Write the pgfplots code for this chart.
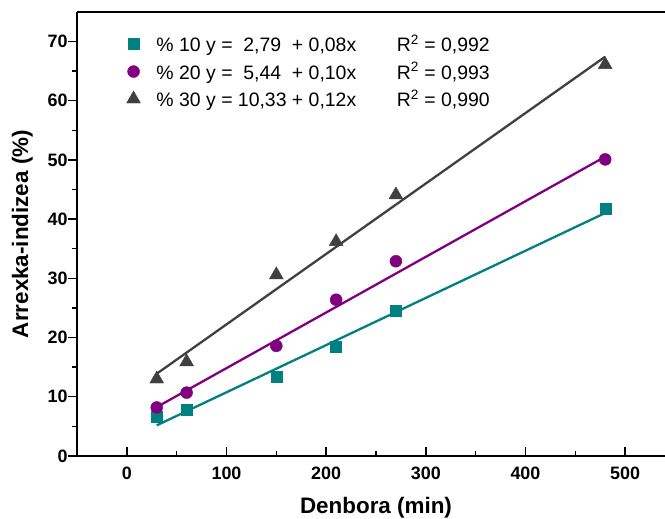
\documentclass[border=0pt]{standalone}
\usepackage{pgfplots}
\pgfplotsset{compat=1.18}
\usepackage{fontspec}
\setmainfont{Liberation Sans}
\definecolor{c10}{RGB}{0,128,128}
\definecolor{c20}{RGB}{128,0,128}
\definecolor{c30}{RGB}{64,64,64}
\begin{document}
\begin{tikzpicture}
\begin{axis}[
  scale only axis, width=588bp, height=444bp,
  xmin=-50, xmax=540, ymin=0, ymax=75,
  axis x line*=box, axis y line*=left,
  axis line style={-, line width=1.6bp},
  xtick={0,100,...,500}, ytick={0,10,...,70},
  minor x tick num=1, minor y tick num=1,
  xtick align=inside, ytick align=outside,
  xtick pos=bottom, ytick pos=left,
  major tick length=9bp, minor tick length=5bp,
  tick style={line width=1.4bp, black},
  /pgf/number format/assume math mode=true,
  tick label style={font=\bfseries\fontsize{18}{21}\selectfont},
  xticklabel style={yshift=-7bp},
  yticklabel style={xshift=3bp},
  xlabel={Denbora (min)}, ylabel={Arrexka-indizea (\%)},
  label style={font=\bfseries\fontsize{22.5}{26}\selectfont},
  xlabel style={at={(axis description cs:0.5085,-0.1295)}, anchor=base},
  ylabel style={at={(axis description cs:-0.0833,0.5)}, anchor=base, rotate=0},
  legend style={draw=none, fill=none, at={(0.079,0.958)}, anchor=north west,
    font=\fontsize{19.5}{22}\selectfont, row sep=5bp,
    nodes={inner xsep=8bp}},
  legend cell align=left,
]
% fitted lines
\addplot[c10, line width=2.3bp, forget plot] coordinates {(30,5.18) (480,41.05)};
\addplot[c20, line width=2.3bp, forget plot] coordinates {(30,8.26) (480,50.56)};
\addplot[c30, line width=2.3bp, forget plot] coordinates {(30,13.9) (480,67.45)};
% measurements
\addplot[only marks, mark=square*, mark size=5.5bp, c10] coordinates {
  (30,6.6) (60,7.9) (150,13.4) (210,18.5) (270,24.5) (480,41.8)};
\addlegendentry{\hspace{8bp}\% 10 y = \makebox[2.5em][c]{2,79} \makebox[5.4em][l]{+ 0,08x}R\textsuperscript{2} = 0,992}
\addplot[only marks, mark=*, mark size=6bp, c20] coordinates {
  (30,8.2) (60,10.7) (150,18.6) (210,26.4) (270,32.9) (480,50.1)};
\addlegendentry{\hspace{8bp}\% 20 y = \makebox[2.5em][c]{5,44} \makebox[5.4em][l]{+ 0,10x}R\textsuperscript{2} = 0,993}
\addplot[only marks, mark=triangle*, mark size=8bp, c30] coordinates {
  (30,13.0) (60,15.9) (150,30.6) (210,36.2) (270,44.1) (480,66.1)};
\addlegendentry{\hspace{8bp}\% 30 y = \makebox[2.5em][c]{10,33} \makebox[5.4em][l]{+ 0,12x}R\textsuperscript{2} = 0,990}
\end{axis}
\pgfresetboundingbox
\path ([shift={(-77bp,-63bp)}]current axis.south west) rectangle ([shift={(0bp,12bp)}]current axis.north east);
\end{tikzpicture}
\end{document}
